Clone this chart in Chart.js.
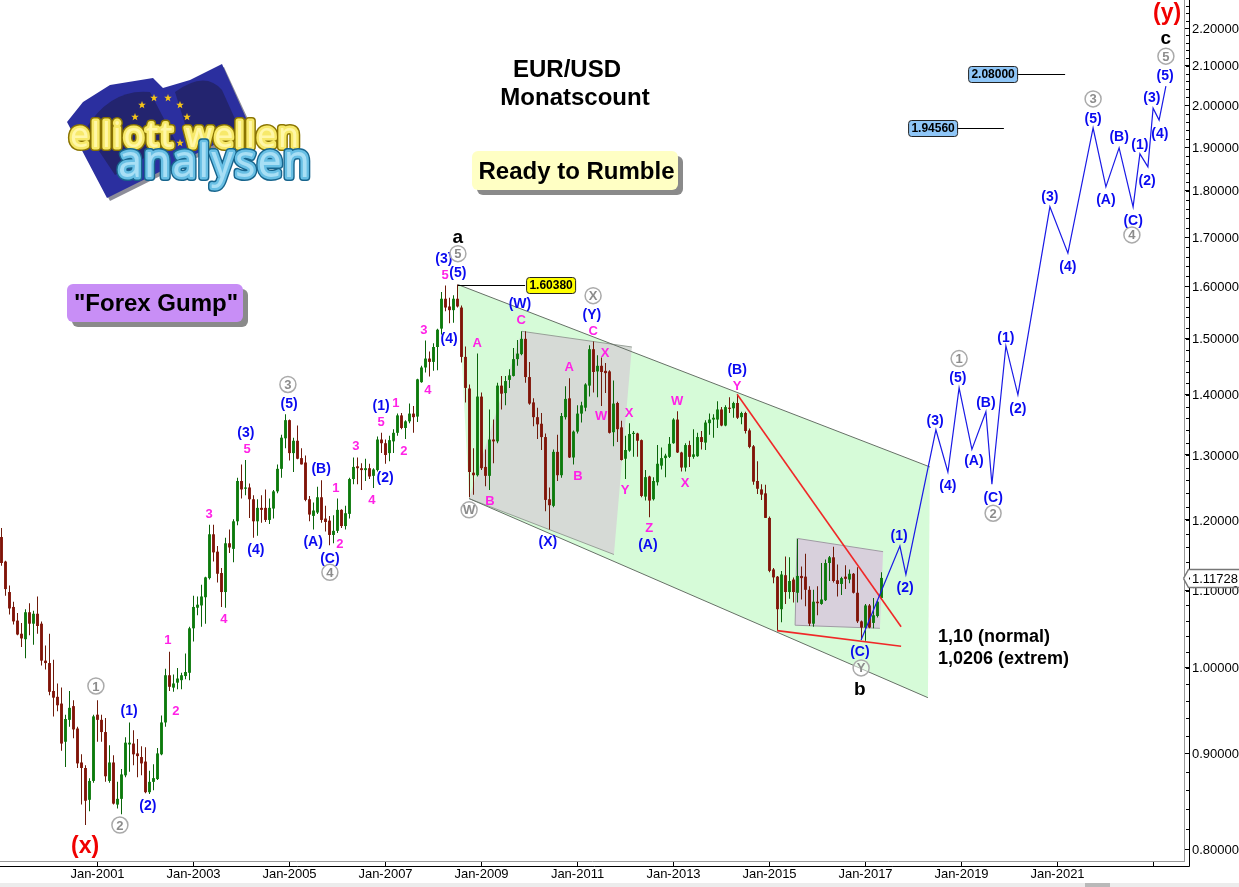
<!DOCTYPE html>
<html>
<head>
<meta charset="utf-8">
<title>EUR/USD Monatscount</title>
<script src="https://cdn.jsdelivr.net/npm/chart.js@4"></script>
<style>
html, body { margin: 0; padding: 0; background: #fff; }
canvas { display: block; }
</style>
</head>
<body>
<canvas id="eurChart" width="1239" height="887"></canvas>
<script>
// months are counted from Jan-2001 = 0, first candle is Jan-1999
const firstMonth = -24;
const opens = [
  1.175,1.140,1.098,1.078,1.060,1.043,1.036,1.071,1.056,1.069,1.056,1.009,
  1.006,.972,.965,.957,.913,.938,.954,.928,.890,.884,.850,.870,
  .944,.938,.924,.870,.890,.845,.851,.876,.910,.911,.900,.896,
  .891,.858,.869,.872,.899,.935,.991,.976,.982,.985,.990,.994,
  1.050,1.077,1.080,1.091,1.117,1.179,1.154,1.124,1.098,1.166,1.158,1.198,
  1.259,1.247,1.249,1.231,1.198,1.218,1.218,1.200,1.217,1.243,1.278,1.327,
  1.357,1.303,1.323,1.295,1.288,1.231,1.206,1.211,1.234,1.202,1.199,1.178,
  1.184,1.215,1.191,1.209,1.262,1.282,1.279,1.276,1.279,1.267,1.276,1.325,
  1.319,1.303,1.322,1.336,1.365,1.344,1.355,1.368,1.363,1.422,1.448,1.464,
  1.458,1.485,1.519,1.576,1.561,1.554,1.576,1.559,1.467,1.411,1.272,1.268,
  1.397,1.281,1.267,1.325,1.322,1.416,1.403,1.426,1.433,1.463,1.472,1.500,
  1.431,1.387,1.362,1.351,1.329,1.231,1.221,1.305,1.268,1.362,1.394,1.296,
  1.338,1.368,1.378,1.416,1.481,1.441,1.451,1.442,1.441,1.337,1.386,1.345,
  1.294,1.307,1.334,1.335,1.324,1.235,1.266,1.231,1.257,1.283,1.295,1.297,
  1.319,1.358,1.304,1.280,1.316,1.297,1.298,1.329,1.320,1.352,1.358,1.358,
  1.375,1.348,1.378,1.377,1.386,1.362,1.369,1.340,1.314,1.259,1.246,1.240,
  1.203,1.129,1.119,1.075,1.121,1.098,1.115,1.097,1.120,1.119,1.101,1.056,
  1.085,1.082,1.087,1.138,1.146,1.114,1.109,1.119,1.115,1.123,1.097,1.059,
  1.051,1.080,1.057,1.066,1.090
];
const highs = [
  1.188,1.141,1.107,1.085,1.070,1.057,1.075,1.083,1.073,1.092,1.059,1.028,
  1.043,1.010,.981,.976,.944,.972,.961,.930,.899,.887,.873,.944,
  .961,.944,.940,.909,.898,.869,.883,.918,.935,.926,.916,.908,
  .907,.881,.888,.906,.943,.999,1.020,.992,1.000,.994,1.018,1.052,
  1.093,1.092,1.108,1.119,1.193,1.193,1.162,1.131,1.174,1.186,1.201,1.264,
  1.285,1.292,1.255,1.237,1.231,1.237,1.246,1.232,1.245,1.285,1.333,1.367,
  1.358,1.328,1.348,1.311,1.299,1.236,1.226,1.250,1.260,1.221,1.206,1.207,
  1.232,1.216,1.221,1.264,1.296,1.296,1.287,1.294,1.286,1.279,1.330,1.336,
  1.325,1.331,1.342,1.368,1.369,1.357,1.385,1.381,1.428,1.451,1.497,1.477,
  1.492,1.519,1.589,1.602,1.578,1.583,1.604,1.563,1.486,1.418,1.311,1.473,
  1.404,1.309,1.375,1.358,1.421,1.433,1.433,1.445,1.483,1.498,1.514,1.514,
  1.458,1.394,1.378,1.369,1.335,1.249,1.309,1.333,1.369,1.415,1.429,1.340,
  1.382,1.388,1.420,1.488,1.495,1.470,1.466,1.456,1.443,1.425,1.388,1.356,
  1.331,1.352,1.339,1.336,1.325,1.276,1.267,1.265,1.316,1.312,1.302,1.329,
  1.360,1.372,1.305,1.319,1.323,1.342,1.336,1.339,1.357,1.368,1.367,1.389,
  1.379,1.382,1.396,1.388,1.401,1.371,1.371,1.343,1.316,1.290,1.254,1.253,
  1.205,1.131,1.120,1.127,1.147,1.146,1.118,1.172,1.133,1.151,1.106,1.101,
  1.106,1.138,1.143,1.148,1.161,1.136,1.119,1.135,1.129,1.124,1.132,1.060,
  1.082,1.082,1.090,1.086,1.125
];
const lows = [
  1.134,1.093,1.068,1.055,1.041,1.026,1.012,1.041,1.029,1.043,1.003,.998,
  .967,.942,.948,.903,.885,.930,.917,.884,.845,.824,.838,.868,
  .913,.913,.869,.868,.845,.841,.835,.874,.880,.887,.874,.876,
  .857,.856,.860,.871,.898,.930,.972,.971,.974,.974,.986,.985,
  1.033,1.067,1.052,1.056,1.115,1.140,1.111,1.078,1.077,1.152,1.139,1.192,
  1.232,1.237,1.203,1.174,1.177,1.196,1.197,1.194,1.202,1.240,1.264,1.311,
  1.291,1.273,1.293,1.285,1.228,1.198,1.186,1.209,1.196,1.183,1.163,1.166,
  1.181,1.188,1.186,1.202,1.254,1.254,1.245,1.259,1.262,1.248,1.274,1.303,
  1.286,1.290,1.303,1.331,1.342,1.326,1.352,1.336,1.354,1.421,1.439,1.432,
  1.442,1.443,1.508,1.552,1.529,1.530,1.559,1.457,1.387,1.234,1.238,1.266,
  1.276,1.251,1.245,1.287,1.319,1.375,1.382,1.412,1.432,1.451,1.470,1.421,
  1.383,1.347,1.326,1.308,1.213,1.186,1.219,1.259,1.264,1.358,1.295,1.285,
  1.335,1.353,1.372,1.397,1.404,1.396,1.381,1.403,1.335,1.314,1.321,1.291,
  1.262,1.305,1.297,1.297,1.234,1.229,1.204,1.229,1.252,1.277,1.265,1.295,
  1.318,1.303,1.274,1.274,1.281,1.294,1.297,1.309,1.308,1.333,1.328,1.344,
  1.347,1.347,1.369,1.361,1.359,1.350,1.335,1.311,1.253,1.239,1.230,1.203,
  1.125,1.110,1.047,1.058,1.082,1.089,1.084,1.084,1.088,1.079,1.053,1.052,
  1.067,1.081,1.086,1.113,1.111,1.092,1.094,1.102,1.110,1.096,1.057,1.035,
  1.034,1.050,1.050,1.064,1.088
];
const closes = [
  1.138,1.102,1.076,1.059,1.042,1.037,1.071,1.056,1.069,1.053,1.009,1.006,
  .971,.964,.955,.911,.939,.952,.927,.889,.884,.849,.870,.942,
  .938,.924,.875,.890,.846,.851,.877,.912,.912,.899,.897,.889,
  .858,.869,.873,.900,.935,.991,.977,.981,.987,.991,.995,1.050,
  1.078,1.081,1.092,1.118,1.179,1.153,1.123,1.098,1.166,1.160,1.198,1.259,
  1.246,1.249,1.231,1.198,1.218,1.215,1.200,1.218,1.243,1.278,1.328,1.357,
  1.303,1.323,1.294,1.285,1.230,1.208,1.214,1.234,1.200,1.197,1.178,1.184,
  1.215,1.191,1.210,1.262,1.281,1.279,1.276,1.279,1.266,1.277,1.325,1.319,
  1.300,1.324,1.336,1.365,1.344,1.355,1.368,1.362,1.427,1.448,1.464,1.458,
  1.485,1.517,1.576,1.559,1.554,1.576,1.561,1.467,1.412,1.273,1.268,1.397,
  1.279,1.267,1.325,1.322,1.416,1.402,1.424,1.434,1.463,1.473,1.500,1.431,
  1.385,1.362,1.350,1.329,1.230,1.222,1.305,1.268,1.364,1.393,1.296,1.338,
  1.368,1.382,1.418,1.481,1.440,1.451,1.440,1.438,1.336,1.385,1.342,1.292,
  1.308,1.334,1.336,1.323,1.236,1.265,1.229,1.259,1.286,1.295,1.299,1.318,
  1.358,1.304,1.280,1.316,1.297,1.301,1.329,1.321,1.353,1.358,1.361,1.375,
  1.348,1.379,1.376,1.386,1.361,1.369,1.339,1.313,1.258,1.247,1.238,1.203,
  1.127,1.118,1.075,1.122,1.098,1.113,1.098,1.120,1.117,1.101,1.056,1.085,
  1.083,1.088,1.138,1.146,1.113,1.109,1.117,1.116,1.123,1.097,1.059,1.051,
  1.080,1.051,1.067,1.085,1.11728
];

const xTickMonths = [0,24,48,72,96,120,144,168,192,216,240,264];
const xTickLabels = ['Jan-2001','Jan-2003','Jan-2005','Jan-2007','Jan-2009','Jan-2011','Jan-2013','Jan-2015','Jan-2017','Jan-2019','Jan-2021',''];
const yTickValues = [0.8,0.9,1.0,1.1,1.2,1.3,1.4,1.5,1.6,1.7,1.8,1.9,2.0,2.1,2.2];
const yMinorValues = [0.8,0.82,0.84,0.86,0.88,0.9,0.92,0.94,0.96,0.98,1.0,1.02,1.04,1.06,1.08,1.1,1.12,1.14,1.16,1.18,1.2,1.22,1.24,1.26,1.28,1.3,1.32,1.34,1.36,1.38,1.4,1.42,1.44,1.46,1.48,1.5,1.52,1.54,1.56,1.58,1.6,1.62,1.64,1.66,1.68,1.7,1.72,1.74,1.76,1.78,1.8,1.82,1.84,1.86,1.88,1.9,1.92,1.94,1.96,1.98,2.0,2.02,2.04,2.06,2.08,2.1,2.12,2.14,2.16,2.18,2.2,2.22,2.24,2.26];

// forecast path and chart lines, [month, price]
const forecastPath = [[190.9,1.035],[200.6,1.162],[202.1,1.122],[209.6,1.341],[212.6,1.273],[215.4,1.412],[218.6,1.309],[222.1,1.371],[223.6,1.254],[227.1,1.487],[230.1,1.400],[238.1,1.765],[242.6,1.667],[248.9,1.945],[252.1,1.809],[255.4,1.898],[258.9,1.765],[260.6,1.884],[262.6,1.854],[263.9,1.993],[265.4,1.964],[267.1,2.048]];
const channelTop = [[90.1,1.6038],[208.1,1.281]];
const channelBottom = [[92.9,1.232],[207.6,0.964]];
const redFalling = [[159.9,1.401],[200.9,1.052]];
const redLow = [[169.9,1.047],[200.9,1.027]];
const channelArea = [[90.1,1.6038],[208.1,1.281],[207.6,0.964],[92.9,1.232]];
const grayAreaLeft = [[106.1,1.514],[133.6,1.485],[129.1,1.150],[92.9,1.232]];
const grayAreaRight = [[174.9,1.173],[196.4,1.154],[195.6,1.05],[174.4,1.054]];

// wave counts, [text, month, price]
const blueWaves = [['(1)',7.9,.950],['(2)',12.6,.845],['(3)',37.1,1.338],['(4)',39.6,1.159],['(5)',47.9,1.386],['(B)',55.9,1.280],['(A)',53.9,1.170],['(C)',58.1,1.146],['(1)',70.9,1.383],['(2)',71.9,1.266],['(3)',86.6,1.658],['(5)',90.1,1.629],['(4)',87.9,1.503],['(W)',105.6,1.568],['(Y)',123.6,1.547],['(X)',112.6,1.170],['(A)',137.6,1.166],['(B)',159.9,1.446],['(C)',190.6,1.021],['(1)',200.4,1.179],['(2)',201.9,1.105],['(3)',209.4,1.358],['(4)',212.6,1.254],['(5)',215.1,1.432],['(A)',219.1,1.292],['(B)',222.1,1.388],['(C)',223.9,1.235],['(1)',227.1,1.505],['(2)',230.1,1.378],['(3)',238.1,1.789],['(4)',242.6,1.641],['(5)',248.9,1.969],['(A)',252.1,1.782],['(B)',255.4,1.926],['(C)',258.9,1.737],['(1)',260.6,1.907],['(2)',262.4,1.825],['(3)',263.6,2.021],['(4)',265.6,1.935],['(5)',266.9,2.076]];
const pinkWaves = [['1',17.6,1.036],['2',19.6,.949],['3',27.9,1.21],['4',31.6,1.063],['5',37.4,1.311],['1',59.6,1.25],['2',60.6,1.167],['3',64.6,1.316],['4',68.6,1.232],['5',70.9,1.356],['1',74.6,1.388],['2',76.6,1.308],['3',81.6,1.518],['4',82.6,1.41],['5',86.9,1.625],['A',94.9,1.494],['B',98.1,1.23],['C',105.9,1.537],['A',117.9,1.45],['B',120.1,1.269],['C',123.9,1.516],['X',126.9,1.476],['W',125.9,1.365],['X',132.9,1.37],['Y',131.9,1.247],['Z',137.9,1.189],['W',144.9,1.391],['X',146.9,1.258],['Y',159.9,1.418]];
const circledWaves = [['1',-0.4,.978],['2',5.6,.824],['3',47.6,1.418],['4',58.1,1.125],['5',90.1,1.666],['W',92.9,1.215],['X',123.9,1.582],['Y',190.9,1.0],['1',215.4,1.464],['2',223.9,1.21],['3',248.9,2.016],['4',258.6,1.705],['5',267.1,2.125]];
const blackWaves = [['a',90.1,1.703],['b',190.6,.975],['c',267.1,2.174]];
const redWaves = [['(x)',-3.1,.804],['(y)',267.4,2.243]];
const targetNotes = [['1,10 (normal)',210.1,1.041],['1,0206 (extrem)',210.1,1.013]];
// price boxes: value, month where the line starts, month where it ends
const priceBoxes = [[1.6038,90.1,106.9],[2.08,241.9,229.9],[1.9456,226.6,214.9]];

const SANS = '"Liberation Sans", Arial, sans-serif';
const months = opens.map((_, i) => firstMonth + i);
const isUp = i => closes[i] >= opens[i];

function toPoints(list) {
    return list.map(p => ({ x: p[0], y: p[1] }));
}

function lineSet(points, color, width, order) {
    return { type: 'line', data: toPoints(points), borderColor: color, borderWidth: width, pointRadius: 0, tension: 0, fill: false, order: order };
}

function rounded(ctx, x, y, w, h, r) {
    ctx.beginPath();
    ctx.roundRect(x, y, w, h, r);
}

function drawShadowBox(ctx, x, y, w, h, color) {
    ctx.fillStyle = '#8a8a8a';
    rounded(ctx, x + 5, y + 5, w, h, 6);
    ctx.fill();
    ctx.fillStyle = color;
    rounded(ctx, x, y, w, h, 6);
    ctx.fill();
}

function star(ctx, cx, cy, r) {
    ctx.beginPath();
    for (let i = 0; i < 10; i++) {
        const a = -Math.PI / 2 + i * Math.PI / 5;
        const d = i % 2 ? r * 0.42 : r;
        ctx.lineTo(cx + Math.cos(a) * d, cy + Math.sin(a) * d);
    }
    ctx.closePath();
    ctx.fill();
}

function logoText(ctx, text, x, y, width, font, dark, mid, light) {
    ctx.font = font;
    ctx.strokeStyle = dark;
    ctx.lineWidth = 8;
    ctx.strokeText(text, x, y, width);
    ctx.strokeStyle = mid;
    ctx.lineWidth = 5;
    ctx.strokeText(text, x, y, width);
    ctx.fillStyle = light;
    ctx.fillText(text, x, y, width);
}

function drawLogo(ctx) {
    ctx.save();
    ctx.fillStyle = '#8d8d99';
    ctx.beginPath();
    ctx.moveTo(70, 125); ctx.lineTo(85, 105); ctx.lineTo(112, 88); ctx.lineTo(155, 81); ctx.lineTo(165, 91);
    ctx.lineTo(192, 83); ctx.lineTo(224, 67); ctx.lineTo(253, 130); ctx.lineTo(110, 201);
    ctx.closePath();
    ctx.fill();
    ctx.fillStyle = '#2b2f9f';
    ctx.beginPath();
    ctx.moveTo(67, 122); ctx.lineTo(83, 102); ctx.lineTo(110, 85); ctx.lineTo(153, 78); ctx.lineTo(163, 88);
    ctx.lineTo(190, 80); ctx.lineTo(222, 64); ctx.lineTo(250, 127); ctx.lineTo(107, 198);
    ctx.closePath();
    ctx.fill();
    ctx.fillStyle = '#23246f';
    ctx.beginPath();
    ctx.moveTo(85, 130); ctx.quadraticCurveTo(110, 88, 150, 92); ctx.lineTo(175, 140); ctx.lineTo(115, 175);
    ctx.closePath();
    ctx.fill();
    ctx.beginPath();
    ctx.moveTo(175, 92); ctx.quadraticCurveTo(205, 70, 222, 90); ctx.lineTo(240, 130); ctx.lineTo(190, 140);
    ctx.closePath();
    ctx.fill();
    ctx.fillStyle = '#f5c518';
    [[142,105],[154,98],[168,98],[180,105],[187,117],[186,130],[180,143],[135,117]].forEach(s => star(ctx, s[0], s[1], 4));

    ctx.lineJoin = 'round';
    ctx.textAlign = 'left';
    ctx.textBaseline = 'alphabetic';
    ctx.letterSpacing = '2px';
    logoText(ctx, 'elliott wellen', 70, 147, 238, '34px "Noto Sans"', '#8a7400', '#f7e96a', '#fff7a8');
    logoText(ctx, 'analysen', 118, 177, 194, '46px "Noto Sans"', '#17658d', '#68bfe4', '#a8dff5');
    ctx.restore();
}

const overlayPlugin = {
    id: 'overlay',
    beforeDatasetsDraw(chart) {
        const ctx = chart.ctx, x = chart.scales.x, y = chart.scales.y;
        function area(list, color) {
            ctx.fillStyle = color;
            ctx.beginPath();
            list.forEach(p => ctx.lineTo(x.getPixelForValue(p[0]), y.getPixelForValue(p[1])));
            ctx.closePath();
            ctx.fill();
        }
        function edges(list, pairs, color) {
            ctx.strokeStyle = color;
            ctx.lineWidth = 1;
            pairs.forEach(k => {
                ctx.beginPath();
                ctx.moveTo(x.getPixelForValue(list[k[0]][0]), y.getPixelForValue(list[k[0]][1]));
                ctx.lineTo(x.getPixelForValue(list[k[1]][0]), y.getPixelForValue(list[k[1]][1]));
                ctx.stroke();
            });
        }
        ctx.save();
        area(channelArea, '#d6fbd8');
        area(grayAreaLeft, '#d6dad6');
        edges(grayAreaLeft, [[0,1],[2,3]], '#98a098');
        area(grayAreaRight, '#d8d0dc');
        edges(grayAreaRight, [[0,1],[2,3],[0,3]], '#a09aa4');
        ctx.restore();
    },
    afterDatasetsDraw(chart) {
        const ctx = chart.ctx, x = chart.scales.x, y = chart.scales.y;
        function put(list, font, color) {
            ctx.font = font;
            ctx.fillStyle = color;
            list.forEach(l => ctx.fillText(l[0], x.getPixelForValue(l[1]), y.getPixelForValue(l[2]) + 1.5));
        }
        ctx.save();
        ctx.textAlign = 'center';
        ctx.textBaseline = 'middle';
        put(pinkWaves, 'bold 13px ' + SANS, '#ff22e6');
        put(blueWaves, 'bold 14px ' + SANS, '#0a0af0');
        put(blackWaves, 'bold 19px ' + SANS, '#000');
        put(redWaves, 'bold 23px ' + SANS, '#f00000');
        circledWaves.forEach(l => {
            const px = x.getPixelForValue(l[1]), py = y.getPixelForValue(l[2]);
            ctx.strokeStyle = '#aaa';
            ctx.lineWidth = 1.5;
            ctx.fillStyle = 'rgba(255,255,255,0.5)';
            ctx.beginPath();
            ctx.arc(px, py, 8, 0, Math.PI * 2);
            ctx.fill();
            ctx.stroke();
            ctx.fillStyle = '#8c8c8c';
            ctx.font = 'bold 13px ' + SANS;
            ctx.fillText(l[0], px, py + 1);
        });

        ctx.textAlign = 'left';
        put(targetNotes, 'bold 18px ' + SANS, '#000');

        // price boxes with their lines
        const fills = ['#ffff00', '#8fc6f7', '#8fc6f7'];
        priceBoxes.forEach((b, i) => {
            const py = y.getPixelForValue(b[0]);
            const a = x.getPixelForValue(b[1]), e = x.getPixelForValue(b[2]);
            ctx.strokeStyle = '#000';
            ctx.lineWidth = 1;
            ctx.beginPath();
            ctx.moveTo(a, Math.round(py) + 0.5);
            ctx.lineTo(e, Math.round(py) + 0.5);
            ctx.stroke();
            const bx = i === 0 ? e + 1 : e - 49;
            ctx.fillStyle = fills[i];
            rounded(ctx, bx + 0.5, Math.round(py) - 7.5, 49, 16, 3);
            ctx.fill();
            ctx.strokeStyle = '#222';
            ctx.stroke();
            ctx.fillStyle = '#000';
            ctx.font = 'bold 12px ' + SANS;
            ctx.textAlign = 'center';
            ctx.fillText(b[0].toFixed(5), bx + 25, Math.round(py) + 1);
        });

        // heading and boxes
        ctx.textAlign = 'center';
        ctx.fillStyle = '#000';
        ctx.font = 'bold 24px ' + SANS;
        ctx.fillText('EUR/USD', 567, 70);
        ctx.fillText('Monatscount', 575, 98);
        drawShadowBox(ctx, 472, 151, 206, 39, '#ffffc4');
        drawShadowBox(ctx, 67, 284, 176, 38, '#c88ef6');
        ctx.fillStyle = '#000';
        ctx.fillText('Ready to Rumble', 576.5, 172);
        ctx.fillText('"Forex Gump"', 156, 304);
        drawLogo(ctx);
        ctx.restore();
    },
    afterDraw(chart) {
        const ctx = chart.ctx, y = chart.scales.y;
        ctx.save();
        ctx.strokeStyle = '#000';
        ctx.lineWidth = 1;
        ctx.beginPath();
        ctx.moveTo(1189.5, 0); ctx.lineTo(1189.5, 866.5); ctx.lineTo(0, 866.5);
        ctx.stroke();
        ctx.beginPath();
        yMinorValues.forEach(v => {
            const py = Math.round(y.getPixelForValue(v)) + 0.5;
            ctx.moveTo(1186, py);
            ctx.lineTo(1189, py);
        });
        ctx.stroke();
        ctx.fillStyle = '#ececec';
        ctx.fillRect(0, 883, 1239, 4);
        ctx.fillStyle = '#b9b9b9';
        ctx.fillRect(1085, 883, 25, 4);

        // last price tag
        const last = closes[closes.length - 1];
        const py = Math.round(y.getPixelForValue(last));
        ctx.beginPath();
        ctx.moveTo(1183.5, py + 0.5);
        ctx.lineTo(1188.5, py - 8.5);
        ctx.lineTo(1239, py - 8.5);
        ctx.moveTo(1239, py + 9.5);
        ctx.lineTo(1188.5, py + 9.5);
        ctx.lineTo(1183.5, py + 0.5);
        ctx.fillStyle = '#fff';
        ctx.fill();
        ctx.strokeStyle = '#777';
        ctx.lineWidth = 1.5;
        ctx.stroke();
        ctx.fillStyle = '#000';
        ctx.font = '13px ' + SANS;
        ctx.textAlign = 'left';
        ctx.textBaseline = 'middle';
        ctx.fillText(last.toFixed(5), 1192, py + 1);
        ctx.restore();
    }
};

function noPadding(scale) {
    scale.paddingTop = scale.paddingBottom = scale.paddingLeft = scale.paddingRight = 0;
}

new Chart(document.getElementById('eurChart').getContext('2d'), {
    type: 'bar',
    data: {
        datasets: [
            lineSet(forecastPath, '#1a1ae6', 1.2, 0),
            lineSet(redFalling, '#f02828', 1.6, 1),
            lineSet(redLow, '#f02828', 1.6, 1),
            {
                data: months.map((m, i) => ({ x: m, y: [opens[i], closes[i]] })),
                grouped: false,
                maxBarThickness: 3,
                minBarLength: 1,
                backgroundColor: ctx => isUp(ctx.dataIndex) ? '#0c7a0c' : '#801408',
                order: 2
            },
            {
                data: months.map((m, i) => ({ x: m, y: [lows[i], highs[i]] })),
                grouped: false,
                maxBarThickness: 1,
                backgroundColor: ctx => isUp(ctx.dataIndex) ? '#0a640a' : '#6e1a0a',
                order: 3
            },
            lineSet(channelTop, '#667066', 1, 4),
            lineSet(channelBottom, '#667066', 1, 4)
        ]
    },
    options: {
        responsive: false,
        animation: false,
        events: [],
        layout: { padding: 0 },
        plugins: { legend: { display: false }, tooltip: { enabled: false } },
        scales: {
            x: {
                type: 'linear',
                offset: false,
                min: -24.375,
                max: 271.625,
                afterBuildTicks: scale => { scale.ticks = xTickMonths.map(v => ({ value: v })); },
                afterFit: scale => { scale.height = 26; noPadding(scale); },
                border: { color: '#999' },
                grid: { offset: false, drawOnChartArea: false, tickColor: '#000', tickLength: 5 },
                ticks: {
                    autoSkip: false,
                    maxRotation: 0,
                    padding: 1,
                    color: '#000',
                    font: { family: SANS, size: 13 },
                    callback: v => xTickLabels[xTickMonths.indexOf(v)]
                }
            },
            y: {
                type: 'logarithmic',
                position: 'right',
                min: 0.78826,
                max: 2.2773,
                afterBuildTicks: scale => { scale.ticks = yTickValues.map(v => ({ value: v })); },
                afterFit: scale => { scale.width = 55; noPadding(scale); },
                border: { color: '#999' },
                grid: { drawOnChartArea: false, tickColor: '#000', tickLength: 6 },
                ticks: {
                    autoSkip: false,
                    padding: 2,
                    labelOffset: 1,
                    color: '#000',
                    font: { family: SANS, size: 13 },
                    callback: v => v.toFixed(5)
                }
            }
        }
    },
    plugins: [overlayPlugin]
});
</script>
</body>
</html>
